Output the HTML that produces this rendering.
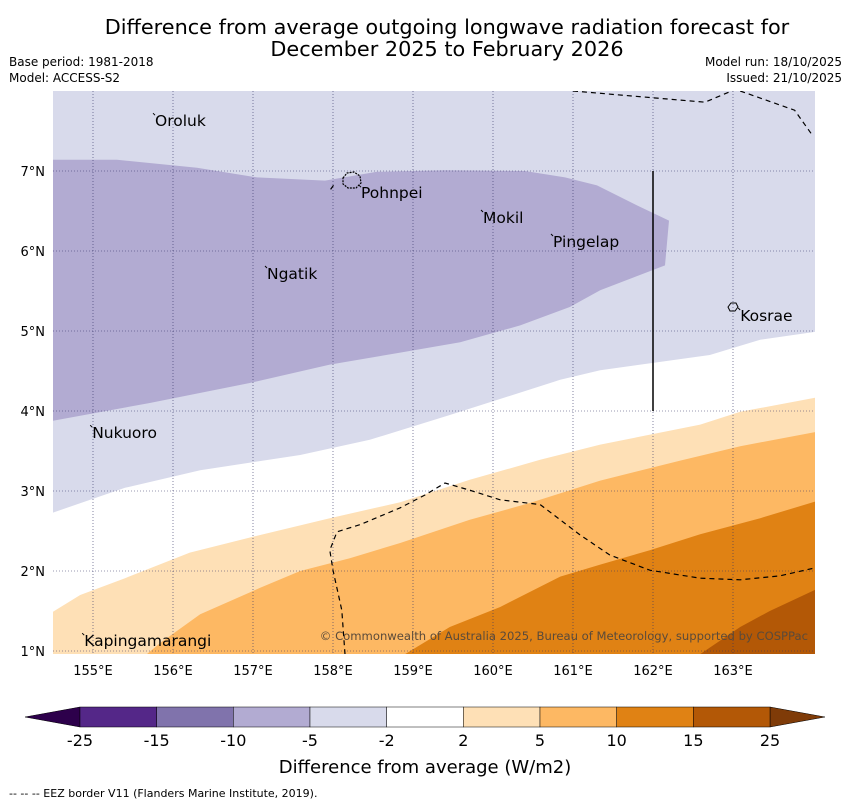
<!DOCTYPE html>
<html><head><meta charset="utf-8"><style>
body{margin:0;background:#fff;font-family:"Liberation Sans","DejaVu Sans",sans-serif;}
svg text{font-family:"DejaVu Sans","Liberation Sans",sans-serif;}
</style></head><body>
<svg id="c" width="850" height="804" viewBox="0 0 850 804">
<text x="447" y="34" text-anchor="middle" font-size="20.8">Difference from average outgoing longwave radiation forecast for</text>
<text x="447" y="56" text-anchor="middle" font-size="20.8">December 2025 to February 2026</text>
<text x="9" y="66" font-size="12">Base period: 1981-2018</text>
<text x="9" y="82" font-size="12">Model: ACCESS-S2</text>
<text x="842" y="66" font-size="12" text-anchor="end">Model run: 18/10/2025</text>
<text x="842" y="82" font-size="12" text-anchor="end">Issued: 21/10/2025</text>
<defs><clipPath id="mc"><rect x="53" y="91" width="762" height="563"/></clipPath></defs>
<g id="map" clip-path="url(#mc)"></g>
<g id="ax"></g>
<g id="cb"></g>
<text x="425" y="773" text-anchor="middle" font-size="18">Difference from average (W/m2)</text>
<text x="9" y="797" font-size="11">--  --  -- EEZ border V11 (Flanders Marine Institute, 2019).</text>
</svg>
<script>
// Data (lon, lat)
const lightLavTop = [[154.5,2.73],[155.4,3.04],[156.34,3.26],[157.59,3.45],[158.46,3.64],[159.46,3.95],[160.84,4.39],[161.34,4.51],[162.71,4.7],[163.34,4.89],[164.1,5.0]];
const darkLav = [[154.4,7.14],[155.3,7.14],[156.3,7.04],[157.05,6.92],[157.9,6.88],[158.55,6.99],[159.4,7.01],[160.4,7.0],[160.9,6.92],[161.3,6.82],[161.8,6.57],[162.2,6.38],[162.15,5.82],[161.34,5.51],[160.96,5.3],[160.34,5.07],[159.59,4.86],[158.84,4.73],[157.96,4.58],[156.96,4.35],[155.71,4.1],[154.4,3.86]];
const orange1Top = [[154.5,1.49],[154.84,1.7],[155.4,1.91],[156.21,2.23],[157.09,2.45],[157.96,2.66],[158.84,2.86],[159.71,3.14],[160.59,3.39],[161.34,3.58],[162.59,3.83],[163.09,3.99],[164.1,4.18]];
const orange2Top = [[155.6,0.9],[155.84,1.1],[156.34,1.46],[157.09,1.79],[157.59,2.0],[158.21,2.16],[158.84,2.35],[159.71,2.64],[160.46,2.85],[161.34,3.13],[162.34,3.38],[163.09,3.56],[164.1,3.75]];
const orange3Top = [[158.8,0.9],[159.46,1.3],[160.09,1.55],[160.84,1.93],[161.34,2.08],[161.96,2.26],[162.59,2.46],[163.34,2.66],[164.1,2.89]];
const orange4Top = [[162.5,0.9],[163.09,1.3],[163.46,1.5],[164.1,1.8]];
const eezA = [[161.0,8.0],[162.65,7.86],[163.03,8.02]];
const eezB = [[163.09,8.0],[163.77,7.76],[163.99,7.45]];
const eezC = [[158.15,0.96],[158.11,1.51],[158.0,2.01],[157.96,2.26],[158.05,2.49],[158.34,2.58],[158.84,2.79],[159.15,2.95],[159.4,3.1],[159.71,3.01],[160.09,2.89],[160.59,2.83],[160.84,2.64],[161.09,2.45],[161.46,2.2],[161.96,2.01],[162.59,1.91],[163.09,1.89],[163.59,1.94],[164.03,2.04]];
const eezD = [[157.97,6.77],[158.02,6.84]];
const lonTicks=[155,156,157,158,159,160,161,162,163];
const latTicks=[1,2,3,4,5,6,7];
const islands=[["Oroluk",155.775,7.56],["Pohnpei",158.35,6.66],["Mokil",159.875,6.35],["Pingelap",160.75,6.05],["Ngatik",157.175,5.65],["Kosrae",163.09,5.125],["Nukuoro",154.99,3.66],["Kapingamarangi",154.89,1.06]];
const cbLabels=["-25","-15","-10","-5","-2","2","5","10","15","25"];
const cbColors=["#542788","#8073ac","#b2abd2","#d8daeb","#ffffff","#fee0b6","#fdb863","#e08214","#b35806"];

const X=lon=>53+(lon-154.5)*80, Y=lat=>91+(8-lat)*80;
const NS="http://www.w3.org/2000/svg";
function mk(p,tag,at){const e=document.createElementNS(NS,tag);for(const k in at)e.setAttribute(k,at[k]);p.appendChild(e);return e;}
const pts=a=>a.map(p=>X(p[0]).toFixed(1)+","+Y(p[1]).toFixed(1)).join(" ");
const map=document.getElementById("map");
function fillBelow(top,col,name){const a=top.concat([[top[top.length-1][0],0],[top[0][0],0]]);
 const e=mk(map,"polygon",{points:pts(a),fill:col});
 
 }
let r=mk(map,"rect",{x:53,y:91,width:762,height:563,fill:"#ffffff"});
const lt=[[lightLavTop[0][0],9]].concat(lightLavTop,[[lightLavTop[lightLavTop.length-1][0],9]]);
let e=mk(map,"polygon",{points:pts(lt),fill:"#d8daeb"});


e=mk(map,"polygon",{points:pts(darkLav),fill:"#b2abd2"});


fillBelow(orange1Top,"#fee0b6","contour-2-5");
fillBelow(orange2Top,"#fdb863","contour-5-10");
fillBelow(orange3Top,"#e08214","contour-10-15");
fillBelow(orange4Top,"#b35806","contour-15-25");
// grid
lonTicks.forEach(l=>{const g=mk(map,"line",{x1:X(l),x2:X(l),y1:91,y2:654,stroke:"#333366","stroke-width":0.6,"stroke-dasharray":"1,2"});
 
 });
latTicks.forEach(l=>{const g=mk(map,"line",{x1:53,x2:815,y1:Y(l),y2:Y(l),stroke:"#333366","stroke-width":0.6,"stroke-dasharray":"1,2"});
 
 });
[eezA,eezB,eezC,eezD].forEach(a=>{const g=mk(map,"polyline",{points:pts(a),fill:"none",stroke:"#000","stroke-width":1.2,"stroke-dasharray":"5,4"});
 
 });
e=mk(map,"line",{x1:X(162),x2:X(162),y1:Y(7),y2:Y(4),stroke:"#000","stroke-width":1.5});


islands.forEach(s=>{const t=mk(map,"text",{x:X(s[1]),y:Y(s[2]),"font-size":15.5});t.textContent=s[0];
 
 
 const d=mk(map,"line",{x1:X(s[1])-2,y1:Y(s[2])-13,x2:X(s[1]),y2:Y(s[2])-11,stroke:"#000","stroke-width":1});
 
 });
e=mk(map,"path",{d:"M343,178 L347,173 L354,172 L360,176 L361,183 L356,188 L348,188 L343,184 Z",fill:"none",stroke:"#000","stroke-width":1.2,"stroke-dasharray":"2,1"});


e=mk(map,"path",{d:"M728,307 L731,303 L736,303 L738,307 L735,311 L730,311 Z",fill:"none",stroke:"#000","stroke-width":1});


const cp=mk(map,"text",{x:808,y:640,"font-size":11.6,"text-anchor":"end",fill:"#5a4a3a"});cp.textContent="© Commonwealth of Australia 2025, Bureau of Meteorology, supported by COSPPac";


// axes labels
const ax=document.getElementById("ax");
lonTicks.forEach(l=>{const t=mk(ax,"text",{x:X(l),y:675,"font-size":13,"text-anchor":"middle"});t.textContent=l+"°E";
 
 });
latTicks.forEach(l=>{const t=mk(ax,"text",{x:45,y:Y(l)+5,"font-size":13,"text-anchor":"end"});t.textContent=l+"°N";
 
 });
// colorbar
const cb=document.getElementById("cb");
const cx0=80,cw=690/cbColors.length;
e=mk(cb,"polygon",{points:"25,717 80,707 80,727",fill:"#2d004b",stroke:"#000","stroke-width":0.5});


e=mk(cb,"polygon",{points:"825,717 770,707 770,727",fill:"#7f3b08",stroke:"#000","stroke-width":0.5});


cbColors.forEach((c,i)=>{const b=mk(cb,"rect",{x:cx0+i*cw,y:707,width:cw,height:20,fill:c,stroke:"#000","stroke-width":0.5});
 
 });
cbLabels.forEach((s,i)=>{const t=mk(cb,"text",{x:cx0+i*cw,y:746,"font-size":16,"text-anchor":"middle"});t.textContent=s;
 
 });
</script>
</body></html>
